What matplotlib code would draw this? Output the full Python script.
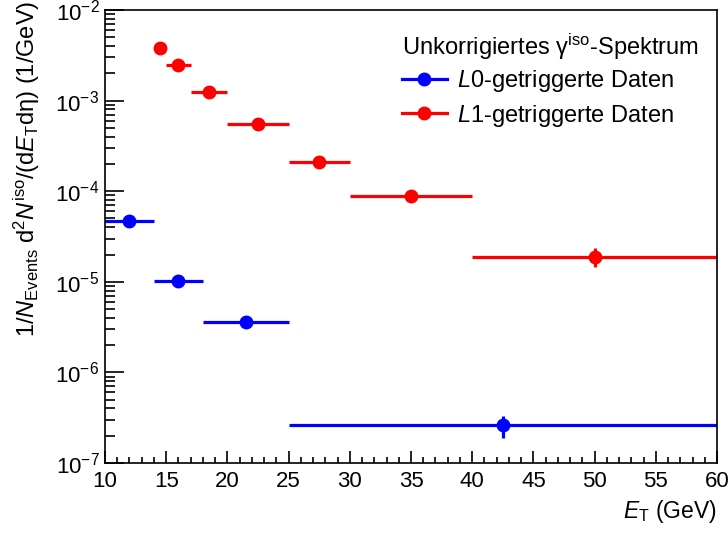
import matplotlib as mpl
import matplotlib.pyplot as plt
import numpy as np
from matplotlib.lines import Line2D
from matplotlib.ticker import MultipleLocator, LogLocator, LogFormatterMathtext, NullFormatter
mpl.use('agg')

# L0-getriggerte Daten (blau)
l0_lo = [10, 14, 18, 25]
l0_hi = [14, 18, 25, 60]
l0_x = [12, 16, 21.5, 42.5]
l0_y = [4.7e-5, 1.02e-5, 3.6e-6, 2.6e-7]
l0_err = [1.5e-6, 5e-7, 4.5e-7, 7e-8]

# L1-getriggerte Daten (rot)
l1_lo = [14, 15, 17, 20, 25, 30, 40]
l1_hi = [15, 17, 20, 25, 30, 40, 60]
l1_x = [14.5, 16, 18.5, 22.5, 27.5, 35, 50]
l1_y = [3.85e-3, 2.45e-3, 1.24e-3, 5.5e-4, 2.1e-4, 8.85e-5, 1.9e-5]
l1_err = [1e-4, 6e-5, 3e-5, 1.2e-5, 5e-6, 2.5e-6, 4.5e-6]

mpl.rcParams.update({
    'font.family': 'Liberation Sans',
    'mathtext.fontset': 'custom',
    'mathtext.rm': 'Liberation Sans',
    'mathtext.it': 'Liberation Sans:italic',
    'mathtext.bf': 'Liberation Sans:bold',
})

dpi = 100
fig = plt.figure(figsize=(728 / dpi, 535 / dpi), dpi=dpi)
ax = fig.add_axes([105 / 728, 72 / 535, 612 / 728, 453 / 535])


def draw(x, y, lo, hi, err, color):
    x = np.array(x)
    xerr = [x - np.array(lo), np.array(hi) - x]
    ax.errorbar(x, y, xerr=xerr, yerr=err, fmt='o', color=color, ms=9,
                elinewidth=2.3, capsize=0)
    return Line2D([], [], color=color, lw=2.3, marker='o', ms=9)


h0 = draw(l0_x, l0_y, l0_lo, l0_hi, l0_err, '#0000ff')
h1 = draw(l1_x, l1_y, l1_lo, l1_hi, l1_err, '#ff0000')

ax.set_yscale('log')
ax.set_xlim(10, 60)
ax.set_ylim(1e-7, 1e-2)

ax.xaxis.set_major_locator(MultipleLocator(5))
ax.xaxis.set_minor_locator(MultipleLocator(1))
ax.yaxis.set_major_locator(LogLocator(base=10, numticks=10))
ax.yaxis.set_minor_locator(LogLocator(base=10, subs=np.arange(2, 10), numticks=20))
ax.yaxis.set_major_formatter(LogFormatterMathtext())
ax.yaxis.set_minor_formatter(NullFormatter())

ax.tick_params(axis='both', which='both', direction='in', top=False, right=False,
               labelsize=16, width=1.2)
ax.tick_params(axis='x', which='major', length=9, pad=6)
ax.tick_params(axis='x', which='minor', length=4.5)
ax.tick_params(axis='y', which='major', length=14, pad=4)
ax.tick_params(axis='y', which='minor', length=7)
for sp in ax.spines.values():
    sp.set_linewidth(1.2)

ax.set_xlabel('$\\mathit{E}_{\\mathrm{T}}$ (GeV)', fontsize=16.5, loc='right', labelpad=4)
ax.set_ylabel('1/$\\mathit{N}_{\\mathrm{Events}}$ d$^{2}\\mathit{N}^{\\mathrm{iso}}$/(d$\\mathit{E}_{\\mathrm{T}}$dη) (1/GeV)',
              fontsize=17, loc='top')
ax.yaxis.set_label_coords(-0.103, 1.02)

leg = ax.legend([h0, h1], ['$\\mathit{L}$0-getriggerte Daten', '$\\mathit{L}$1-getriggerte Daten'],
                title='Unkorrigiertes γ$^{\\mathrm{iso}}$-Spektrum', frameon=False,
                loc='upper right', bbox_to_anchor=(720 / 728, 1 - 11 / 535),
                bbox_transform=fig.transFigure, fontsize=17, title_fontsize=17,
                handlelength=1.9, labelspacing=0.36, handletextpad=0.42,
                alignment='left')
leg._legend_box.sep = 4

fig.savefig('out.png', dpi=dpi)
